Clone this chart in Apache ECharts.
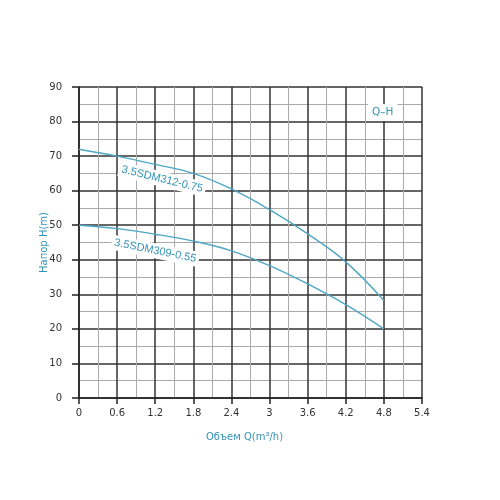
<!DOCTYPE html>
<html>
<head>
<meta charset="utf-8">
<script src="https://cdn.jsdelivr.net/npm/echarts@6/dist/echarts.min.js"></script>
<style>
  html, body { margin: 0; padding: 0; background: #fff; }
  #chart { width: 500px; height: 500px; }
</style>
</head>
<body>
<div id="chart"></div>
<script>
// flow Q (m3/h)
var flow = [0, 0.6, 1.2, 1.8, 2.4, 3.0, 3.6, 4.2, 4.8];
// head H (m)
var head312 = [72, 70, 67.6, 65, 60.5, 54.5, 47.5, 39.4, 28.2];
var head309 = [50, 49, 47.4, 45.4, 42.6, 38.3, 33, 27, 20];
var names = ["3.5SDM312-0.75", "3.5SDM309-0.55"];
var xTicks = [0, 0.6, 1.2, 1.8, 2.4, 3, 3.6, 4.2, 4.8, 5.4];
var yTicks = [0, 10, 20, 30, 40, 50, 60, 70, 80, 90];

var lineColor = "#4ea6c6";
var textColor = "#3593b8";

function pairs(xs, ys) {
  return xs.map(function (x, i) { return [x, ys[i]]; });
}

var myChart = echarts.init(document.getElementById("chart"));

function curveLabel(name, coord, rot) {
  return {
    symbol: "circle",
    symbolSize: 0,
    data: [{ name: name, coord: coord }],
    label: {
      show: true,
      position: "inside",
      formatter: "{b}",
      rotate: rot,
      color: textColor,
      fontFamily: "Liberation Sans, sans-serif",
      fontSize: 11,
      backgroundColor: "#fff",
      padding: [2, 3]
    }
  };
}

myChart.setOption({
  animation: false,
  title: {
    text: "Q–H",
    left: 368,
    top: 104,
    backgroundColor: "#fff",
    padding: [3, 4],
    textStyle: {
      color: textColor,
      fontFamily: "DejaVu Sans, sans-serif",
      fontSize: 10.5,
      fontWeight: "normal"
    }
  },
  grid: {
    left: 79,
    right: 78,
    top: 87,
    bottom: 102
  },
  xAxis: {
    type: "value",
    min: 0,
    max: 5.4,
    interval: 0.6,
    name: "Объем Q(m³/h)",
    nameLocation: "middle",
    nameGap: 34,
    nameTextStyle: {
      color: textColor,
      fontSize: 10,
      fontFamily: "DejaVu Sans, sans-serif",
      padding: [0, 12, 0, 0]
    },
    axisLine: { lineStyle: { color: "#222", width: 1.5 } },
    axisTick: { show: true, length: 6, lineStyle: { color: "#222", width: 1.5 } },
    axisLabel: {
      color: "#333",
      fontSize: 10,
      fontFamily: "DejaVu Sans, sans-serif",
      margin: 10,
      formatter: function (v) { return String(+v.toFixed(1)); }
    },
    splitLine: { show: true, lineStyle: { color: "#333", width: 1.5 } },
    minorTick: { show: false, splitNumber: 2 },
    minorSplitLine: { show: true, lineStyle: { color: "#aaa", width: 1 } }
  },
  yAxis: {
    type: "value",
    min: 0,
    max: 90,
    interval: 10,
    name: "Напор H(m)",
    nameLocation: "middle",
    nameGap: 30,
    nameMoveOverlap: false,
    nameTextStyle: {
      color: textColor,
      fontSize: 10,
      fontFamily: "DejaVu Sans, sans-serif"
    },
    axisLine: { show: true, lineStyle: { color: "#222", width: 1.5 } },
    axisTick: { show: true, length: 7, lineStyle: { color: "#222", width: 1.5 } },
    axisLabel: {
      color: "#333",
      fontSize: 10,
      fontFamily: "DejaVu Sans, sans-serif",
      margin: 17
    },
    splitLine: { show: true, lineStyle: { color: "#333", width: 1.5 } },
    minorTick: { show: false, splitNumber: 2 },
    minorSplitLine: { show: true, lineStyle: { color: "#aaa", width: 1 } }
  },
  series: [
    {
      name: names[0],
      type: "line",
      data: pairs(flow, head312),
      smooth: 0.4,
      showSymbol: false,
      lineStyle: { color: lineColor, width: 1.4 },
      markPoint: curveLabel(names[0], [1.31, 63.3], -13.7)
    },
    {
      name: names[1],
      type: "line",
      data: pairs(flow, head309),
      smooth: 0.4,
      showSymbol: false,
      lineStyle: { color: lineColor, width: 1.4 },
      markPoint: curveLabel(names[1], [1.2, 42.6], -11.4)
    }
  ]
});

window.onresize = function () {
  myChart.resize();
};
</script>
</body>
</html>
